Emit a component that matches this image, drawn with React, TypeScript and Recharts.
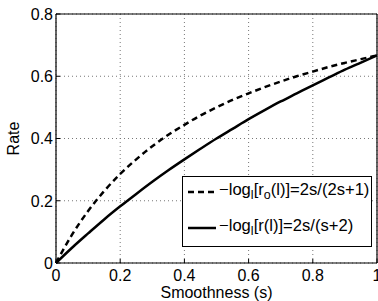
import { CartesianGrid, Label, Legend, Line, LineChart, ReferenceLine, XAxis, YAxis } from 'recharts'

const smoothness = [0, 0.05, 0.1, 0.15, 0.2, 0.25, 0.3, 0.35, 0.4, 0.45, 0.5, 0.55, 0.6, 0.65, 0.7, 0.75, 0.8, 0.85, 0.9, 0.95, 1]
// dashed curve, -log_l[r_o(l)]
const rateOptimal = [0, 0.091, 0.167, 0.231, 0.286, 0.333, 0.375, 0.412, 0.444, 0.474, 0.5, 0.524, 0.545, 0.565, 0.583, 0.6, 0.615, 0.63, 0.643, 0.655, 0.667]
// solid curve, -log_l[r(l)]
const rateActual = [0, 0.049, 0.095, 0.14, 0.182, 0.222, 0.261, 0.298, 0.333, 0.367, 0.4, 0.431, 0.462, 0.491, 0.519, 0.545, 0.571, 0.596, 0.621, 0.644, 0.667]

const xTicks = [0, 0.2, 0.4, 0.6, 0.8, 1]
const yTicks = [0, 0.2, 0.4, 0.6, 0.8]

const data = smoothness.map((s, i) => ({ s, optimal: rateOptimal[i], actual: rateActual[i] }))

const FONT = '"Liberation Sans", Arial, Helvetica, sans-serif'
const FONT_SIZE = 16

const fmt = (v: number) => (v === 0 ? '0' : v === 1 ? '1' : v.toString())

function XTick({ x, y, payload }: any) {
    return (
        <g>
            <line x1={x} x2={x} y1={y} y2={y - 4} stroke='#000' />
            <text x={x} y={y + 18} textAnchor='middle' fontSize={FONT_SIZE} fontFamily={FONT} fill='#000'>
                {fmt(payload.value)}
            </text>
        </g>
    )
}

function YTick({ x, y, payload }: any) {
    return (
        <g>
            <line x1={x} x2={x + 4} y1={y} y2={y} stroke='#000' />
            <text x={x - 3} y={y} dy='0.36em' textAnchor='end' fontSize={FONT_SIZE} fontFamily={FONT} fill='#000'>
                {fmt(payload.value)}
            </text>
        </g>
    )
}

const sub = (t: string) => <span style={{ fontSize: 12.5, verticalAlign: '-4px' }}>{t}</span>

function LegendBox() {
    const rows = [
        {
            dash: '6 4',
            label: (
                <>
                    {'\u2212log'}
                    {sub('l')}
                    {'[r'}
                    {sub('o')}
                    {'(l)]=2s/(2s+1)'}
                </>
            )
        },
        {
            dash: undefined,
            label: (
                <>
                    {'\u2212log'}
                    {sub('l')}
                    {'[r(l)]=2s/(s+2)'}
                </>
            )
        }
    ]
    return (
        <div
            style={{
                position: 'relative',
                width: 190,
                height: 71,
                boxSizing: 'border-box',
                border: '1px solid #000',
                background: '#fff',
                fontFamily: FONT,
                fontSize: 16.6,
                color: '#000'
            }}
        >
            {rows.map((r, i) => (
                <div
                    key={i}
                    style={{
                        position: 'absolute',
                        left: 4,
                        top: 4 + i * 36,
                        height: 22,
                        display: 'flex',
                        alignItems: 'center',
                        whiteSpace: 'nowrap',
                        lineHeight: '22px'
                    }}
                >
                    <svg width={30} height={22} style={{ marginRight: 2 }}>
                        <line x1={1} x2={29} y1={11} y2={11} stroke='#000' strokeWidth={2.5} strokeDasharray={r.dash} />
                    </svg>
                    <span>{r.label}</span>
                </div>
            ))}
        </div>
    )
}

export default function App() {
    return (
        <div style={{ position: 'absolute', left: 0, top: 0, width: 378, height: 301, background: '#fff' }}>
            <LineChart width={378} height={301} data={data} margin={{ top: 14, right: 1, bottom: 0, left: 0 }}>
                <CartesianGrid stroke='#777' strokeDasharray='1 3' horizontalValues={yTicks} verticalValues={xTicks} />
                <XAxis
                    dataKey='s'
                    type='number'
                    domain={[0, 1]}
                    ticks={xTicks}
                    height={38}
                    tickSize={0}
                    tickMargin={0}
                    tickLine={false}
                    tick={<XTick />}
                    axisLine={{ stroke: '#000', strokeWidth: 1.2 }}
                    interval={0}
                >
                    <Label
                        content={({ viewBox }: any) => (
                            <text
                                x={viewBox.x + viewBox.width / 2}
                                y={viewBox.y + 35}
                                textAnchor='middle'
                                fontSize={FONT_SIZE}
                                fontFamily={FONT}
                                fill='#000'
                            >
                                Smoothness (s)
                            </text>
                        )}
                    />
                </XAxis>
                <YAxis
                    type='number'
                    domain={[0, 0.8]}
                    ticks={yTicks}
                    width={56}
                    tickSize={0}
                    tickMargin={0}
                    tickLine={false}
                    tick={<YTick />}
                    axisLine={{ stroke: '#000', strokeWidth: 1.2 }}
                    interval={0}
                >
                    <Label
                        content={({ viewBox }: any) => {
                            const cx = viewBox.x + 19
                            const cy = viewBox.y + viewBox.height / 2
                            return (
                                <text
                                    x={cx}
                                    y={cy}
                                    transform={`rotate(-90 ${cx} ${cy})`}
                                    textAnchor='middle'
                                    fontSize={FONT_SIZE}
                                    fontFamily={FONT}
                                    fill='#000'
                                >
                                    Rate
                                </text>
                            )
                        }}
                    />
                </YAxis>
                <ReferenceLine y={0.8} stroke='#000' strokeWidth={1.2} />
                <ReferenceLine x={1} stroke='#000' strokeWidth={1.2} />
                <Line
                    dataKey='optimal'
                    type='monotone'
                    stroke='#000'
                    strokeWidth={2.5}
                    strokeDasharray='6 4'
                    dot={false}
                    isAnimationActive={false}
                />
                <Line dataKey='actual' type='monotone' stroke='#000' strokeWidth={2.5} dot={false} isAnimationActive={false} />
                <Legend
                    layout='vertical'
                    align='center'
                    verticalAlign='middle'
                    content={() => <LegendBox />}
                    wrapperStyle={{ left: 182, top: 176, width: 190, height: 71 }}
                />
            </LineChart>
        </div>
    )
}
